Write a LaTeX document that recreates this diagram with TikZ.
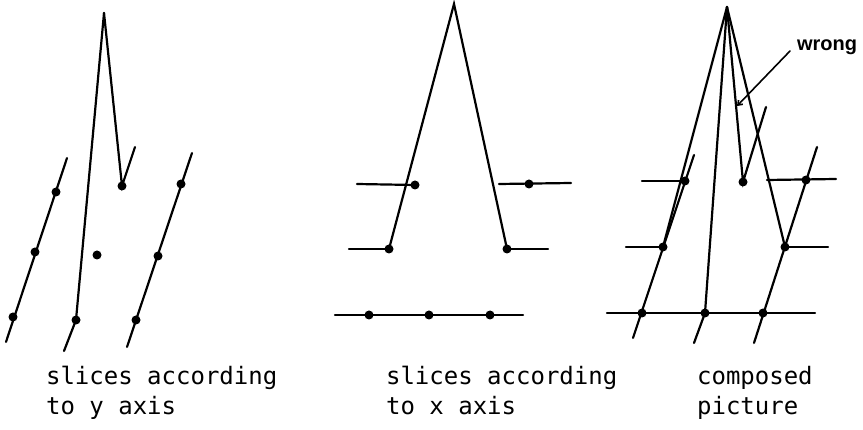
\documentclass[tikz,border=0pt]{standalone}
\usepackage{fontspec}
\newfontfamily\monof{DejaVu Sans Mono}
\newfontfamily\handf{Liberation Sans}
\usetikzlibrary{arrows.meta}
\begin{document}
\begin{tikzpicture}[x=1pt,y=-1pt,line width=2.2pt,line cap=round,
  dot/.style={circle,fill,inner sep=0pt,minimum size=9pt},
  lbl/.style={anchor=base west,inner sep=0pt,font=\monof\fontsize{24}{24}\selectfont},
  hand/.style={anchor=base west,inner sep=0pt,font=\handf\bfseries\fontsize{20}{20}\selectfont}]
\useasboundingbox (0,0) rectangle (863,430);

% ---------- panel 1: slices according to y axis ----------
\coordinate (A1) at (104,13);
\node[dot] (p1d) at (122,186) {};
\coordinate (p1t) at (135,147);
\draw (A1) -- (p1d.center) -- (p1t);
\node[dot] (p1b) at (76,320) {};
\coordinate (p1e) at (64,351);
\draw (A1) -- (p1b.center) -- (p1e);
\node[dot] (p1iso) at (97,255) {};
\coordinate (p1La) at (67,158);
\coordinate (p1Lb) at (6,342);
\draw (p1La) -- (p1Lb);
\node[dot] (p1L1) at (56,192) {};
\node[dot] (p1L2) at (35,252) {};
\node[dot] (p1L3) at (13,317) {};
\coordinate (p1Ra) at (192,153);
\coordinate (p1Rb) at (127,347);
\draw (p1Ra) -- (p1Rb);
\node[dot] (p1R1) at (181,184) {};
\node[dot] (p1R2) at (158,256) {};
\node[dot] (p1R3) at (136,320) {};

% ---------- panel 2: slices according to x axis ----------
\coordinate (A2) at (454,4);
\node[dot] (p2ml) at (389,249) {};
\node[dot] (p2mr) at (507,249) {};
\draw (p2ml.center) -- (A2) -- (p2mr.center);
\coordinate (p2tla) at (357,184);
\node[dot] (p2tl) at (415,185) {};
\draw (p2tla) -- (p2tl.center);
\coordinate (p2tra) at (499,184);
\coordinate (p2trb) at (571,183);
\draw (p2tra) -- (p2trb);
\node[dot] (p2tr) at (529,184) {};
\coordinate (p2mla) at (349,249);
\draw (p2mla) -- (p2ml.center);
\coordinate (p2mrb) at (548,249);
\draw (p2mr.center) -- (p2mrb);
\coordinate (p2ba) at (335,315);
\coordinate (p2bb) at (523,315);
\draw (p2ba) -- (p2bb);
\node[dot] (p2b1) at (369,315) {};
\node[dot] (p2b2) at (429,315) {};
\node[dot] (p2b3) at (490,315) {};

% ---------- panel 3: composed picture ----------
\coordinate (A3) at (727,7);
\coordinate (p3La) at (694,155);
\coordinate (p3Lb) at (633,338);
\draw (p3La) -- (p3Lb);
\node[dot] (p3L1) at (685,181) {};
\node[dot] (p3L2) at (663,247) {};
\node[dot] (p3L3) at (642,313) {};
\draw (A3) -- (p3L2.center);
\node[dot] (p3M) at (705,313) {};
\coordinate (p3Me) at (694,343);
\draw (A3) -- (p3M.center) -- (p3Me);
\node[dot] (p3d) at (743,182) {};
\coordinate (p3t) at (766,107);
\draw (A3) -- (p3d.center) -- (p3t);
\coordinate (p3Ra) at (817,147);
\coordinate (p3Rb) at (754,343);
\draw (p3Ra) -- (p3Rb);
\node[dot] (p3R1) at (806,180) {};
\node[dot] (p3R2) at (785,247) {};
\node[dot] (p3R3) at (763,313) {};
\draw (A3) -- (p3R2.center);
% horizontals
\coordinate (p3tla) at (642,181);
\draw (p3tla) -- (p3L1.center);
\coordinate (p3tra) at (767,180);
\coordinate (p3trb) at (836,179);
\draw (p3tra) -- (p3trb);
\coordinate (p3mla) at (626,247);
\draw (p3mla) -- (p3L2.center);
\coordinate (p3mrb) at (828,247);
\draw (p3R2.center) -- (p3mrb);
\coordinate (p3ba) at (607,313);
\coordinate (p3bb) at (815,313);
\draw (p3ba) -- (p3bb);
% wrong
\node[hand] (wrong) at (796,51) {wrong};
\coordinate (wtail) at (790,51);
\coordinate (whead) at (737,106);
\draw[line width=1.6pt,-{Straight Barb[length=4pt,width=6pt]}] (wtail) -- (whead);

% ---------- labels ----------
\node[lbl] (c1a) at (45,385) {slices according};
\node[lbl] (c1b) at (45,415) {to y axis};
\node[lbl] (c2a) at (385,385) {slices according};
\node[lbl] (c2b) at (385,415) {to x axis};
\node[lbl] (c3a) at (696,385) {composed};
\node[lbl] (c3b) at (696,415) {picture};
\end{tikzpicture}
\end{document}
